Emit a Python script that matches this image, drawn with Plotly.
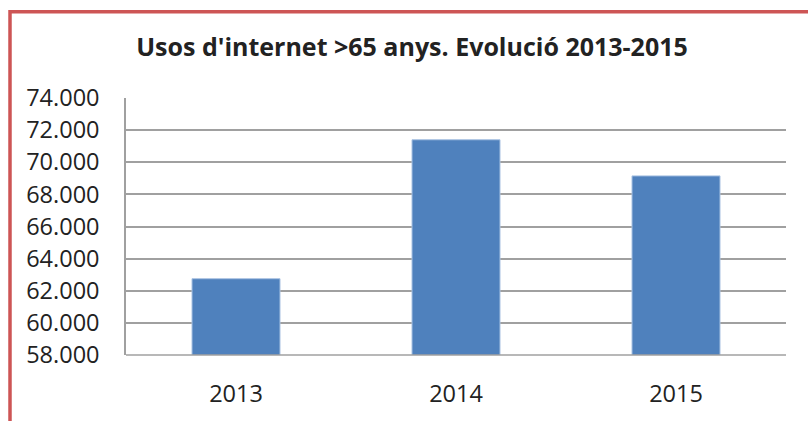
import plotly.graph_objects as go

years = ["2013", "2014", "2015"]
usos = [62750, 71400, 69150]
y_ticks = [58000, 60000, 62000, 64000, 66000, 68000, 70000, 72000, 74000]

W, H = 808, 421
L, R, T, B = 126, 22, 98, 62
pw, ph = W - L - R, H - T - B

def px(x):
    return (x - L) / pw

def py(y):
    return (H - B - y) / ph

fig = go.Figure()
fig.add_trace(go.Bar(
    x=years, y=usos,
    marker=dict(color="#4F81BD", line=dict(color="#A9C2E2", width=1)),
    width=0.4,
))

fig.update_layout(
    width=W, height=H,
    margin=dict(l=L, r=R, t=T, b=B),
    paper_bgcolor="white", plot_bgcolor="white",
    separators=",.",
    showlegend=False,
    font=dict(family="Open Sans", size=23.5, color="#222222"),
    title=dict(
        text="<b>Usos d'internet >65 anys. Evolució 2013-2015</b>",
        x=px(412), xanchor="center", xref="paper",
        y=1 - 47 / H, yanchor="middle",
        font=dict(family="Open Sans", size=25, color="#222222"),
    ),
    xaxis=dict(
        showgrid=False, showline=False, zeroline=False,
        ticks="", ticklabelstandoff=22,
        tickfont=dict(size=23.5),
    ),
    yaxis=dict(
        range=[58000, 74000], tickvals=y_ticks, tickformat=",.0f",
        showgrid=True, gridcolor="#A0A0A0", gridwidth=1.5,
        showline=True, linecolor="#A0A0A0", linewidth=1.5,
        zeroline=False, ticks="", ticklabelstandoff=20,
        tickfont=dict(size=23.5),
    ),
    shapes=[
        dict(type="line", xref="paper", yref="paper",
             x0=0, x1=1, y0=0, y1=0,
             line=dict(color="#A0A0A0", width=1.5)),
        dict(type="rect", xref="paper", yref="paper",
             x0=px(10), x1=px(830), y0=py(10.5), y1=py(440),
             line=dict(color="#CD5555", width=3.5)),
    ],
)

fig.write_html("out.html", config={"displayModeBar": False},
               post_script="document.body.style.margin='0';")
